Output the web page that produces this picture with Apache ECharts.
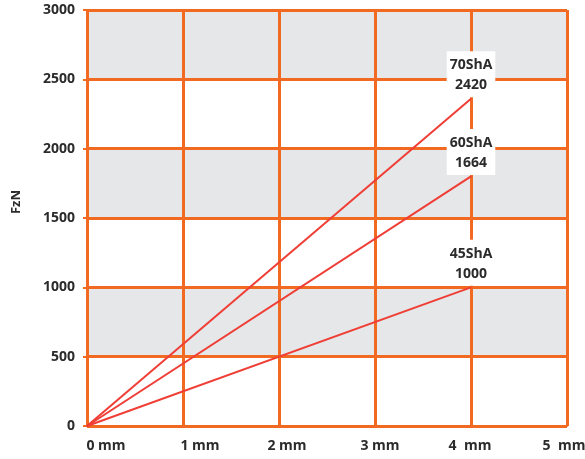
<!DOCTYPE html>
<html><head><meta charset="utf-8">
<script src="https://cdn.jsdelivr.net/npm/echarts@6/dist/echarts.min.js"></script>
<style>html,body{margin:0;padding:0;background:#fff}#c{width:585px;height:459px}</style>
</head><body><div id="c"></div>
<script>
const xValues = [0, 4];
const s70 = [0, 2360];
const s60 = [0, 1800];
const s45 = [0, 1000];
const seriesNames = ['70ShA', '60ShA', '45ShA'];
const endLabels = ['2420', '1664', '1000'];
const xTickLabels = ['0 mm', '1 mm', '2 mm', '3 mm', '4  mm', '5  mm'];
const xLabelShift = [19, 17, 8, 5, -1, -3];
const yTicks = [0, 500, 1000, 1500, 2000, 2500, 3000];

const ORANGE = '#f26a22';
const RED = '#ef3e36';
const TXT = '#2b2b2b';
const FONT = '"Open Sans", "DejaVu Sans", sans-serif';

function mk(name, vals, lbl) {
  return {
    name: name, type: 'line', symbol: 'circle', symbolSize: 1, showSymbol: true, z: 5,
    itemStyle: { color: RED },
    lineStyle: { color: RED, width: 2 },
    labelLayout: { hideOverlap: false },
    data: xValues.map((x, i) => ({
      value: [x, vals[i]],
      label: i === xValues.length - 1 ? {
        show: true, position: 'top', distance: 1,
        formatter: name + '\n' + lbl,
        backgroundColor: '#fff', padding: [4, 3, 2, 3],
        color: TXT, fontWeight: 'bold', fontSize: 14, lineHeight: 20, fontFamily: FONT, align: 'center'
      } : { show: false }
    }))
  };
}

const rich = {};
xLabelShift.forEach((s, i) => {
  rich['l' + i] = { fontWeight: 'bold', fontSize: 14, color: TXT, fontFamily: FONT,
    padding: s >= 0 ? [0, 0, 0, 2 * s] : [0, -2 * s, 0, 0] };
});

const chart = echarts.init(document.getElementById('c'), null, { renderer: 'canvas' });
chart.setOption({
  animation: false,
  grid: { left: 87, right: 18, top: 10, bottom: 33, containLabel: false, outerBoundsMode: 'none' },
  xAxis: {
    type: 'value', min: 0, max: 5, interval: 1,
    axisLine: { show: true, lineStyle: { color: ORANGE, width: 2 } },
    axisTick: { show: false },
    splitLine: { show: true, lineStyle: { color: ORANGE, width: 3 } },
    axisLabel: {
      margin: 13,
      formatter: (v) => { const i = Math.round(v); return '{l' + i + '|' + xTickLabels[i] + '}'; },
      rich: rich
    }
  },
  yAxis: {
    type: 'value', min: 0, max: 3000, interval: 500,
    name: 'FzN', nameLocation: 'middle', nameGap: 64, nameRotate: 90,
    nameTextStyle: { fontWeight: 'bold', fontSize: 13, color: TXT, fontFamily: FONT, padding: [0, 0, 0, 32] },
    axisLine: { show: true, lineStyle: { color: ORANGE, width: 2 } },
    axisTick: { show: true, length: 4, lineStyle: { color: ORANGE, width: 2 } },
    splitLine: { show: true, lineStyle: { color: ORANGE, width: 3 } },
    splitArea: { show: true, areaStyle: { color: ['#ffffff', '#e6e7e8'] } },
    axisLabel: { margin: 12, fontWeight: 'bold', fontSize: 14, color: TXT, fontFamily: FONT,
      formatter: (v) => yTicks.includes(v) ? String(v) : '' }
  },
  series: [mk(seriesNames[0], s70, endLabels[0]), mk(seriesNames[1], s60, endLabels[1]), mk(seriesNames[2], s45, endLabels[2])]
});
</script></body></html>
